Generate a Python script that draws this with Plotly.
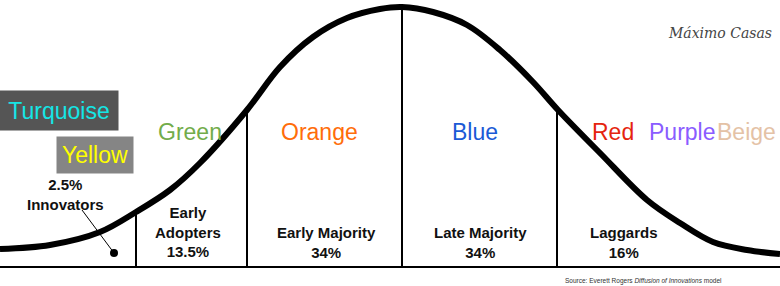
import plotly.graph_objects as go

# Bell curve (position, height above baseline)
curve_x = [0, 50, 100, 136, 170, 200, 247, 280, 313, 347, 380, 402,
           433, 467, 500, 533, 558, 600, 647, 680, 713, 747, 780]
curve_y = [18, 22, 35, 55, 77, 104, 157, 200, 230, 249, 258, 260,
           255, 242, 217, 185, 157, 114, 67, 44, 25, 17, 13]

# Segment boundaries (position, curve height there)
bound_x = [136, 247, 402, 557]
bound_h = [55, 157, 260, 157]

# Segment labels
seg_names = ["2.5%<br>Innovators", "Early<br>Adopters<br>13.5%", "Early Majority<br>34%",
             "Late Majority<br>34%", "Laggards<br>16%"]
seg_x = [65, 188, 326, 480, 624]
seg_y = [72.5, 35, 24.5, 24.5, 25]

# Colour words
color_words = ["Green", "Orange", "Blue", "Red", "Purple", "Beige"]
color_vals = ["#72ac4a", "#ff6d0a", "#1a5ad6", "#e5240e", "#8a5cff", "#e4c2a6"]
color_x = [189.5, 319, 475, 613, 681.5, 746]
color_y = 135

# Innovators pointer
ptr_x = [82, 114]
ptr_y = [57, 14]

fig = go.Figure()

# baseline
fig.add_trace(go.Scatter(x=[0, 780], y=[0, 0], mode="lines",
                         line=dict(color="black", width=2), hoverinfo="skip"))
# boundaries
for bx, bh in zip(bound_x, bound_h):
    fig.add_trace(go.Scatter(x=[bx, bx], y=[0, bh], mode="lines",
                             line=dict(color="black", width=2), hoverinfo="skip"))
# curve
fig.add_trace(go.Scatter(x=curve_x, y=curve_y, mode="lines",
                         line=dict(color="black", width=6, shape="spline", smoothing=1.0),
                         hoverinfo="skip"))
# pointer
fig.add_trace(go.Scatter(x=ptr_x, y=ptr_y, mode="lines",
                         line=dict(color="black", width=1), hoverinfo="skip"))
fig.add_trace(go.Scatter(x=[ptr_x[1]], y=[ptr_y[1]], mode="markers",
                         marker=dict(color="black", size=8), hoverinfo="skip"))

ann = []
for t, x, y in zip(seg_names, seg_x, seg_y):
    ann.append(dict(x=x, y=y, text="<b>" + t + "</b>", showarrow=False,
                    font=dict(family="Liberation Sans, Arial", size=15, color="#111111"),
                    xanchor="center", yanchor="middle", align="center"))
for t, c, x in zip(color_words, color_vals, color_x):
    ann.append(dict(x=x, y=color_y, text=t, showarrow=False,
                    font=dict(family="Liberation Sans, Arial", size=23, color=c),
                    xanchor="center", yanchor="middle"))
# boxed words
ann.append(dict(x=59, y=156.5, text="Turquoise", showarrow=False, width=116, height=37,
                bgcolor="#555555", font=dict(family="Liberation Sans, Arial", size=23, color="#14e6e6"),
                xanchor="center", yanchor="middle"))
ann.append(dict(x=95, y=112, text="Yellow", showarrow=False, width=74, height=34,
                bgcolor="#858585", font=dict(family="Liberation Sans, Arial", size=23, color="#ffff00"),
                xanchor="center", yanchor="middle"))
# source
ann.append(dict(x=643, y=-14, text="Source: Everett Rogers <i>Diffusion of Innovations</i> model",
                showarrow=False, font=dict(family="Liberation Sans, Arial", size=6.5, color="#333333"),
                xanchor="center", yanchor="middle"))
# signature
ann.append(dict(x=720, y=234, text="<i>Máximo Casas</i>", showarrow=False,
                font=dict(family="DejaVu Serif", size=14, color="#444444"),
                xanchor="center", yanchor="middle"))

fig.update_layout(
    width=780, height=286, margin=dict(l=0, r=0, t=0, b=0),
    paper_bgcolor="white", plot_bgcolor="white", showlegend=False,
    xaxis=dict(range=[0, 780], visible=False, fixedrange=True),
    yaxis=dict(range=[-19, 267], visible=False, fixedrange=True),
    annotations=ann,
)

fig.write_html("out.html")
